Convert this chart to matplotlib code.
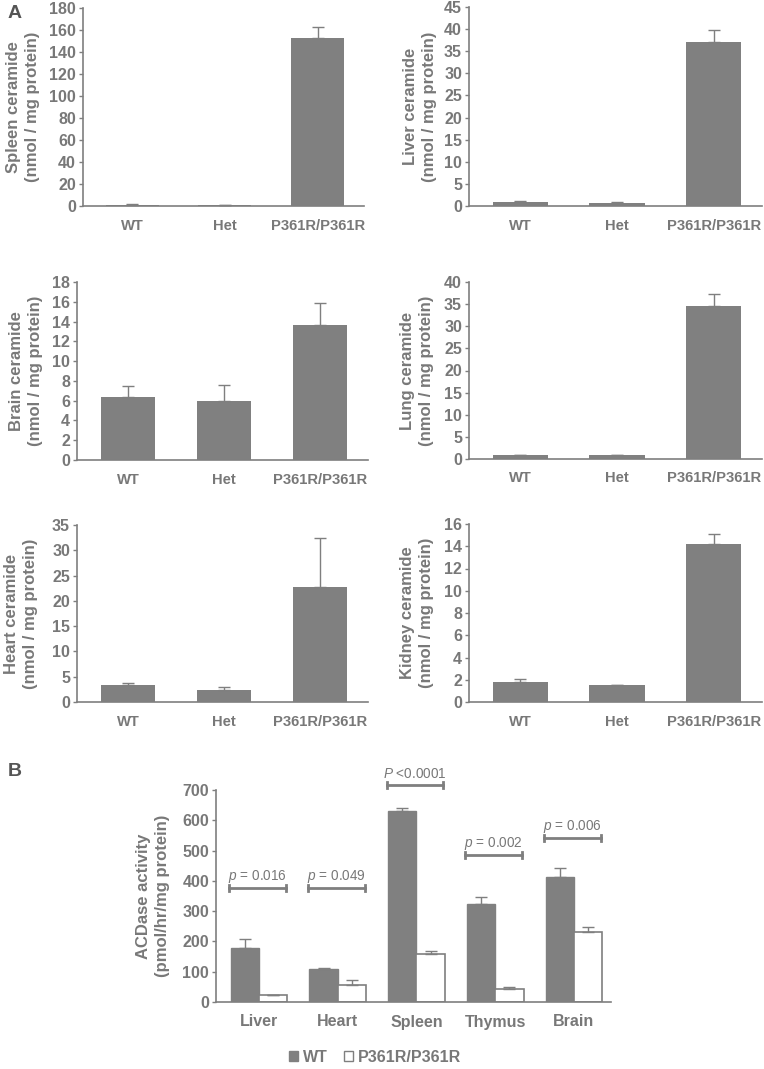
import matplotlib
matplotlib.use("Agg")
import matplotlib.pyplot as plt
from matplotlib.patches import Patch
import numpy as np

plt.rcParams['font.family'] = ['Liberation Sans', 'DejaVu Sans']
plt.rcParams['mathtext.fontset'] = 'custom'
plt.rcParams['mathtext.rm'] = 'Liberation Sans'
plt.rcParams['mathtext.it'] = 'Liberation Sans:italic'

# ---------------- data ----------------
genotypes = ["WT", "Het", "P361R/P361R"]

tissues_a = ["Spleen", "Liver", "Brain", "Lung", "Heart", "Kidney"]
ceramide_mean = {
    "Spleen": [1.0, 0.5, 153.0],
    "Liver": [1.0, 0.7, 37.0],
    "Brain": [6.4, 6.0, 13.7],
    "Lung": [0.8, 0.8, 34.6],
    "Heart": [3.3, 2.4, 22.7],
    "Kidney": [1.8, 1.5, 14.2],
}
ceramide_err = {
    "Spleen": [0.6, 0.3, 10.0],
    "Liver": [0.2, 0.1, 2.8],
    "Brain": [1.1, 1.6, 2.2],
    "Lung": [0.2, 0.1, 2.7],
    "Heart": [0.5, 0.6, 9.7],
    "Kidney": [0.3, 0.05, 0.9],
}
ymax_a = {"Spleen": 180, "Liver": 45, "Brain": 18, "Lung": 40, "Heart": 35, "Kidney": 16}
ystep_a = {"Spleen": 20, "Liver": 5, "Brain": 2, "Lung": 5, "Heart": 5, "Kidney": 2}

tissues_b = ["Liver", "Heart", "Spleen", "Thymus", "Brain"]
acdase_wt = [178, 108, 632, 323, 413]
acdase_wt_err = [30, 3, 10, 23, 30]
acdase_ko = [22, 55, 157, 43, 231]
acdase_ko_err = [2, 18, 11, 5, 15]
p_labels = [r"$\mathit{p}$ = 0.016", r"$\mathit{p}$ = 0.049", r"$\mathit{P}$ <0.0001",
            r"$\mathit{p}$ = 0.002", r"$\mathit{p}$ = 0.006"]
bracket_y = [376, 376, 716, 485, 541]

# ---------------- style ----------------
W, H = 764, 1069
GRAY = "#7f7f7f"
TXT = "#787878"
BAR = "#808080"

fig = plt.figure(figsize=(W / 100, H / 100), dpi=100)


def rect(l, t, r, b):
    return [l / W, 1 - b / H, (r - l) / W, (b - t) / H]


def style_axes(ax):
    for s in ["top", "right"]:
        ax.spines[s].set_visible(False)
    for s in ["left", "bottom"]:
        ax.spines[s].set_color(GRAY)
        ax.spines[s].set_linewidth(1.2)
    ax.tick_params(axis="y", direction="out", length=3, width=1, color=GRAY,
                   labelcolor=TXT, labelsize=11.5, pad=2)
    ax.tick_params(axis="x", length=0, labelcolor=TXT, labelsize=10.6, pad=9)
    for lab in ax.get_yticklabels() + ax.get_xticklabels():
        lab.set_fontweight("bold")


# panel A axes rects (pixels) and y-label centre x
rects_a = {
    "Spleen": (83, 8, 364, 206, 23),
    "Liver": (469, 7, 762, 206, 420),
    "Brain": (77, 282, 368, 460, 26),
    "Lung": (469, 282, 762, 459, 417),
    "Heart": (77, 525, 368, 702, 21),
    "Kidney": (469, 524, 762, 702, 417),
}

x = np.arange(len(genotypes))
for t in tissues_a:
    l, tp, r, b, lx = rects_a[t]
    ax = fig.add_axes(rect(l, tp, r, b))
    means = ceramide_mean[t]
    errs = ceramide_err[t]
    ax.bar(x, means, width=0.57, color=BAR, zorder=2)
    ax.errorbar(x, means, yerr=[np.zeros(len(errs)), errs], fmt="none",
                ecolor=GRAY, elinewidth=1, capsize=4.5, capthick=1, zorder=3)
    ax.set_xlim(-0.53, 2.5)
    ax.set_ylim(0, ymax_a[t])
    ax.set_yticks(np.arange(0, ymax_a[t] + 0.01, ystep_a[t]))
    ax.set_xticks(x)
    ax.set_xticklabels(genotypes)
    style_axes(ax)
    fig.text(lx / W, 1 - ((tp + b) / 2) / H,
             f"{t} ceramide\n(nmol / mg protein)", rotation=90,
             ha="center", va="center", multialignment="center",
             fontsize=12, fontweight="bold", color=TXT, linespacing=1.4)

fig.text(15 / W, 1 - 13 / H, "A", fontsize=14, fontweight="bold", color="#555555",
         ha="center", va="center")
fig.text(15 / W, 1 - 771 / H, "B", fontsize=14, fontweight="bold", color="#555555",
         ha="center", va="center")

# ---------------- panel B ----------------
axb = fig.add_axes(rect(216, 790, 611, 1002))
xb = np.arange(len(tissues_b))
bw = 0.36
axb.bar(xb - bw / 2, acdase_wt, width=bw, color=BAR, edgecolor=BAR, linewidth=1, zorder=2)
axb.bar(xb + bw / 2, acdase_ko, width=bw, color="white", edgecolor=GRAY, linewidth=1.2, zorder=2)
axb.errorbar(xb - bw / 2, acdase_wt, yerr=[np.zeros(5), acdase_wt_err], fmt="none",
             ecolor=GRAY, elinewidth=1, capsize=4.5, capthick=1, zorder=3)
axb.errorbar(xb + bw / 2, acdase_ko, yerr=[np.zeros(5), acdase_ko_err], fmt="none",
             ecolor=GRAY, elinewidth=1, capsize=4.5, capthick=1, zorder=3)
axb.set_xlim(-0.546, 4.47)
axb.set_ylim(0, 700)
axb.set_yticks(np.arange(0, 701, 100))
axb.set_xticks(xb)
axb.set_xticklabels(tissues_b)
style_axes(axb)
axb.tick_params(axis="x", labelsize=11.5, pad=9)
for lab in axb.get_xticklabels():
    lab.set_fontweight("bold")

for i, (yb, lab) in enumerate(zip(bracket_y, p_labels)):
    x0, x1 = xb[i] - 0.38, xb[i] + 0.34
    axb.plot([x0, x1], [yb, yb], color=GRAY, lw=2, clip_on=False, zorder=4)
    for xe in (x0, x1):
        axb.plot([xe, xe], [yb - 9, yb + 9], color=GRAY, lw=2, clip_on=False, zorder=4)
    axb.text((x0 + x1) / 2, yb + 38, lab, ha="center", va="center",
             fontsize=9.8, color=TXT, clip_on=False)

fig.text(153 / W, 1 - 896 / H, "ACDase activity\n(pmol/hr/mg protein)", rotation=90,
         ha="center", va="center", multialignment="center",
         fontsize=12, fontweight="bold", color=TXT, linespacing=1.4)

handles = [Patch(facecolor=BAR, edgecolor=BAR, label="WT"),
           Patch(facecolor="white", edgecolor=GRAY, label="P361R/P361R")]
leg = fig.legend(handles=handles, loc="center", bbox_to_anchor=(375 / W, 1 - 1057 / H),
                 ncol=2, frameon=False, handlelength=0.6, handleheight=0.6,
                 handletextpad=0.3, columnspacing=1.0,
                 prop={"size": 11.5, "weight": "bold"})
for txt in leg.get_texts():
    txt.set_color(TXT)

fig.savefig("out.png", dpi=100, facecolor="white")
